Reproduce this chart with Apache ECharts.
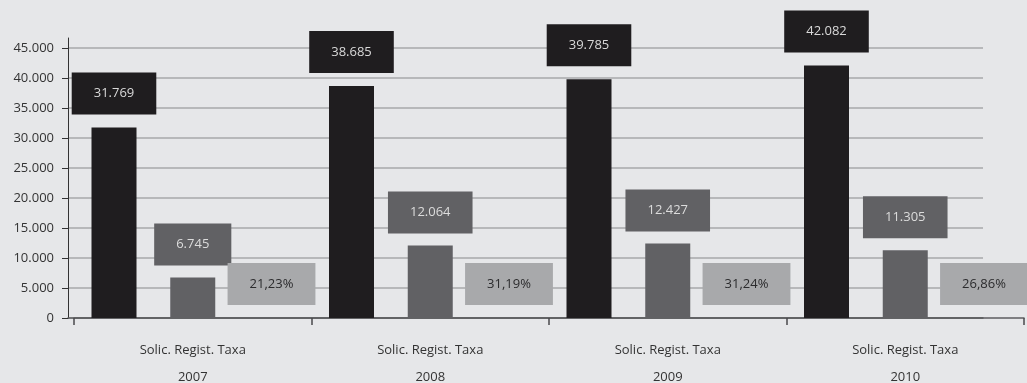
<!DOCTYPE html>
<html>
<head>
<meta charset="utf-8">
<script src="https://cdn.jsdelivr.net/npm/echarts@6/dist/echarts.min.js"></script>
<style>
html,body{margin:0;padding:0;background:#e6e7e9;}
#c{width:1027px;height:383px;}
</style>
</head>
<body>
<div id="c"></div>
<script>
const categories = ['2007', '2008', '2009', '2010'];
const groupLabel = 'Solic. Regist. Taxa';
const solic = [31769, 38685, 39785, 42082];
const regist = [6745, 12064, 12427, 11305];
const taxa = [21.23, 31.19, 31.24, 26.86];
const yMax = 45000;
const yStep = 5000;

const FONT = 'Open Sans';
function fmtNum(v) { return String(v).replace(/\B(?=(\d{3})+(?!\d))/g, '.'); }
function fmtPct(v) { return v.toFixed(2).replace('.', ',') + '%'; }

const chart = echarts.init(document.getElementById('c'), null, {renderer: 'canvas'});
const boxLabel = (bg, fg, dist, pos, fmt) => ({
  show: true, position: pos, distance: dist,
  backgroundColor: bg, color: fg, fontFamily: FONT, fontSize: 13,
  lineHeight: 14, padding: [14, 22, 14, 22], formatter: fmt
});

chart.setOption({
  backgroundColor: '#e6e7e9',
  animation: false,
  grid: [
    {left: 74, right: 3, top: 38, bottom: 65, containLabel: false, outerBoundsMode: 'none'},
    {left: 68, right: 44, top: 48, bottom: 65, containLabel: false, outerBoundsMode: 'none'}
  ],
  xAxis: [
    {
      type: 'category', gridIndex: 0, data: categories,
      axisLine: {show: true, lineStyle: {color: '#5e5e60', width: 1.5}},
      axisTick: {show: true, length: 7, lineStyle: {color: '#4a4a4c', width: 1.5}},
      axisLabel: {
        fontFamily: FONT, fontSize: 13, color: '#333', lineHeight: 27, margin: 19,
        formatter: v => groupLabel + '\n' + v
      }
    },
    {
      type: 'category', gridIndex: 1, data: categories,
      axisLine: {show: true, lineStyle: {color: '#5e5e60', width: 1.5}},
      axisTick: {show: false}, axisLabel: {show: false}
    }
  ],
  yAxis: [
    {
      type: 'value', gridIndex: 0, min: 0, max: yMax * 280 / 270, offset: 6,
      axisLine: {show: true, lineStyle: {color: '#333', width: 1}},
      axisTick: {show: false}, axisLabel: {show: false}, splitLine: {show: false}
    },
    {
      type: 'value', gridIndex: 1, min: 0, max: yMax, interval: yStep,
      axisLine: {show: true, lineStyle: {color: '#333', width: 1}},
      axisTick: {show: true, length: 6, lineStyle: {color: '#333', width: 1}},
      axisLabel: {fontFamily: FONT, fontSize: 13, color: '#333', margin: 14, formatter: fmtNum},
      splitLine: {show: true, lineStyle: {color: '#a7a8aa', width: 1.5}}
    },
    {
      type: 'value', gridIndex: 0, min: 0, max: 100, show: false
    }
  ],
  series: [
    {
      name: 'Solic.', type: 'bar', xAxisIndex: 0, yAxisIndex: 0, data: solic,
      barWidth: 45, barGap: '75%',
      itemStyle: {color: '#1f1d1f'},
      label: boxLabel('#1f1d1f', '#d9d9d9', 13, 'top', p => fmtNum(p.value))
    },
    {
      name: 'Regist.', type: 'bar', xAxisIndex: 0, yAxisIndex: 0, data: regist,
      barWidth: 45, barGap: '75%',
      itemStyle: {color: '#616164'},
      label: boxLabel('#616164', '#dcdcdc', 12, 'top', p => fmtNum(p.value))
    },
    {
      name: 'Taxa', type: 'bar', xAxisIndex: 0, yAxisIndex: 2, data: taxa,
      barWidth: 45, barGap: '75%',
      itemStyle: {color: 'rgba(0,0,0,0)'},
      label: boxLabel('#a8a9ab', '#2b2b2d', 13, 'insideBottom', p => fmtPct(p.value)),
      z: 5
    }
  ]
});
</script>
</body>
</html>
